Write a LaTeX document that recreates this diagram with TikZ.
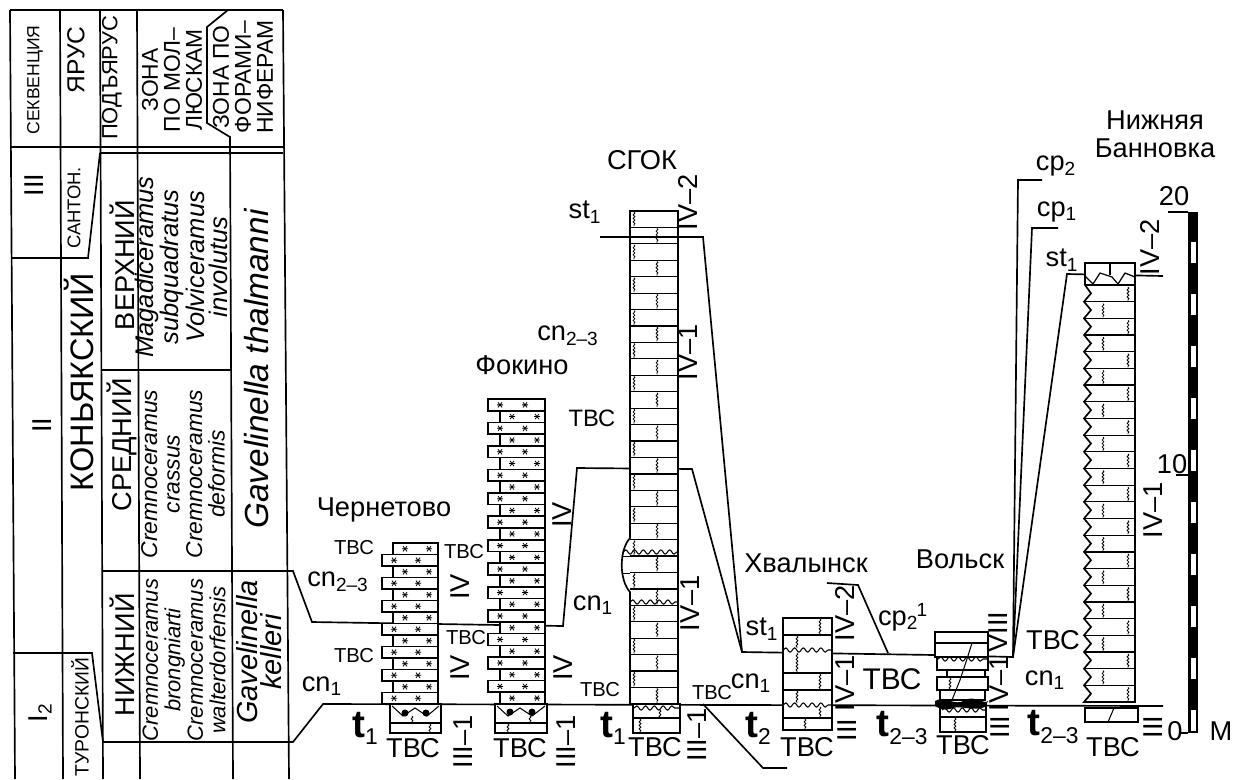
\documentclass[tikz,border=0pt]{standalone}
\usepackage{fontspec}
\setmainfont{Liberation Sans}
\usetikzlibrary{decorations.pathmorphing}
\newcommand\lbl{\fontsize{15.5}{15.5}\selectfont}
\newcommand\sml{\fontsize{11.5}{11.5}\selectfont}
\newcommand\tee{\fontsize{22}{22}\selectfont\bfseries}
\newcommand\tsub[1]{\raisebox{-4pt}{\fontsize{13}{13}\selectfont\mdseries #1}}
\def\chalkstar(#1,#2){\draw[line width=0.45pt,shift={(#1,#2)}] (-3,0) -- (3,0) (-2,-2.6) -- (2,2.6) (-2,2.6) -- (2,-2.6);}
\tikzset{
	lab/.style={font=\lbl, inner sep=0pt},
	labsm/.style={font=\sml, inner sep=0pt},
	rom/.style={font=\lbl, inner sep=0pt, rotate=90},
	tlab/.style={font=\tee, inner sep=0pt},
	hdr/.style={inner sep=0pt, rotate=90, align=center},
	wavy/.style={line width=0.45pt, decorate, decoration={snake, amplitude=0.5pt, segment length=2pt}},
	contact/.style={line width=0.6pt, decorate, decoration={snake, amplitude=1.2pt, segment length=5pt}},
}

\begin{document}
\begin{tikzpicture}[x=0.02cm, y=-0.02cm, line width=0.95pt]
				\useasboundingbox (0,0) rectangle (1234,779);
				
				\draw (10,10) -- (283,10);
				\draw (10,10) -- (15,779);
				\draw (60,10) -- (63,779);
				\draw (100,10) -- (103,779);
				\draw (137,10) -- (140,779);
				\draw (228,10) -- (207,27) -- (207,123) -- (230,137) -- (233,779);
				\draw (283,10) -- (289,779);
				\draw (10,147) -- (283,147);
				\draw (100,153) -- (283,153);
				\draw (11,258) -- (88,258) -- (100,153);
				\draw (101,370) -- (231,370);
				
				\draw (13,653) -- (92,653) -- (103,742) -- (293,742) -- (323,704) -- (1163,706);
				\draw (703,704) -- (763,768) -- (787,768);
				\draw (102,571) -- (293,571) -- (312,622) -- (563,626) -- (577,468) -- (692,469) -- (742,652) -- (935,655) -- (1013,657) -- (1018,180) -- (1042,180);
				\draw (1013,657) -- (1032,228) -- (1058,228);
				\draw (1013,657) -- (1067,274) -- (1163,276);
				\draw (600,237) -- (703,237) -- (742,652);
				\draw (827,583) -- (858,585) -- (888,653);
				
				\foreach \i in {0,...,13} {
					\pgfmathsetmacro\xl{isodd(\i) ? 382 : 393}
					\pgfmathsetmacro\yt{543+\i*11.5}
					\filldraw[fill=white] (\xl,\yt) rectangle (438,\yt+11.5);
					\chalkstar(\xl+12,\yt+5.75)
					\chalkstar(\xl+36,\yt+5.75)
				}
				\filldraw[fill=white] (390,704) rectangle (441,733);
				\draw (390,723) -- (441,723);
				\draw[line width=0.6pt] (392,706) -- (403,716) -- (415,708) -- (427,716) -- (439,706);
				\fill (405,713) circle (3.5);
				\fill (426,713) circle (3.5);
				\draw[wavy] (412,716) -- (412,723);
				\draw[wavy] (430,724) -- (430,732);
				
				\foreach \i in {0,...,25} {
					\pgfmathsetmacro\xl{isodd(\i) ? 500 : 488}
					\pgfmathsetmacro\yt{399+\i*11.73}
					\filldraw[fill=white] (\xl,\yt) rectangle (545,\yt+11.73);
					\chalkstar(\xl+12,\yt+5.86)
					\chalkstar(\xl+37,\yt+5.86)
				}
				\filldraw[fill=white] (495,704) rectangle (547,733);
				\draw (495,723) -- (547,723);
				\draw[line width=0.6pt] (497,706) -- (508,716) -- (520,708) -- (532,716) -- (545,706);
				\fill (510,712) circle (3.5);
				\fill (532,712) circle (3.5);
				\draw[wavy] (508,724) -- (508,732);
				\draw[wavy] (530,716) -- (530,723);
				
				\filldraw[fill=white] (630,211) -- (630,538) .. controls (619,550) and (619,580) .. (630,592) -- (630,704) -- (678,704) -- (678,211) -- cycle;
				\foreach \i in {1,...,29} \draw[line width=0.7pt] (630,211+\i*16.43) -- (678,211+\i*16.43);
				\draw[line width=0.7pt] (622,556.7) -- (630,556.7);
				\draw[line width=0.7pt] (622,573.2) -- (630,573.2);
				\foreach \i in {0,...,29} {
					\pgfmathsetmacro\xw{isodd(\i) ? 657 : 634}
					\draw[wavy] (\xw,212+\i*16.43) -- (\xw,210+\i*16.43+16.43);
				}
				\draw[contact] (623,552) -- (678,552);
				\draw[contact] (630,602) -- (678,602);
				\draw (630,237) -- (678,237);
				\filldraw[fill=white] (633,704) rectangle (680,733);
				\draw[contact] (634,708) -- (679,708);
				\draw (633,718) -- (680,718);
				\draw[wavy] (660,710) -- (660,718);
				\draw[wavy] (640,719) -- (640,732);
				
				\filldraw[fill=white] (783,618) rectangle (832,730);
				\foreach \y in {635,673,690,718} \draw[line width=0.7pt] (783,\y) -- (832,\y);
				\draw[contact] (783,650) -- (832,650);
				\draw[contact] (783,705) -- (832,705);
				\draw[wavy] (820,619) -- (820,634);
				\draw[wavy] (797,636) -- (797,648);
				\draw[wavy] (797,653) -- (797,672);
				\draw[wavy] (820,674) -- (820,689);
				\draw[wavy] (797,691) -- (797,703);
				\draw[wavy] (820,707) -- (820,717);
				\draw[wavy] (805,719) -- (805,729);
				
				\filldraw[fill=white] (935,632) rectangle (988,643);
				\filldraw[fill=white] (935,643) rectangle (988,657);
				\filldraw[fill=white] (937,657) rectangle (988,670);
				\filldraw[fill=white] (947,670) rectangle (985,677);
				\filldraw[fill=white] (937,677) rectangle (988,690);
				\filldraw[fill=white] (940,690) rectangle (985,700);
				\filldraw[fill=white] (940,704) rectangle (986,717);
				\filldraw[fill=white] (940,717) rectangle (986,732);
				\draw[contact] (938,659) -- (987,659);
				\draw[contact] (942,710) -- (985,710);
				\fill (935,701) .. controls (945,695) and (955,707) .. (965,700) .. controls (975,695) and (985,705) .. (988,701) -- (985,707) .. controls (970,712) and (960,704) .. (950,709) .. controls (945,711) and (938,708) .. (935,706) -- cycle;
				\draw[line width=0.6pt] (972,643) -- (966,662) -- (960,680) -- (952,700);
				\draw[wavy] (950,678) -- (950,689);
				\draw[wavy] (955,718) -- (955,731);
				
				\filldraw[fill=white] (1135,263) -- (1085,263) -- (1085,285) \foreach \i in {0,...,24} { -- (1091,285+\i*16.68+8.34) -- (1084,285+\i*16.68+16.68) } -- (1135,702) -- cycle;
				\foreach \i in {0,...,24} \draw[line width=0.7pt] (1085,285+\i*16.68) -- (1135,285+\i*16.68);
				\foreach \i in {0,...,24} {
					\pgfmathsetmacro\xw{isodd(\i) ? 1103 : 1128}
					\draw[wavy] (\xw,287+\i*16.68) -- (\xw,284+\i*16.68+16.68);
				}
				\draw[line width=0.7pt] (1110,263) -- (1110,275);
				\draw[line width=0.7pt] (1085,276) -- (1093,284) -- (1100,273) -- (1112,277) -- (1118,284) -- (1125,273) -- (1135,277);
				\filldraw[fill=white] (1085,708) rectangle (1138,722);
				\draw[line width=0.6pt] (1108,722) -- (1114,708);
				
				\fill (1188,212) rectangle (1198,733);
				\foreach \m in {0,2,...,18} \fill[white] (1191,733-\m*26-2.5) rectangle (1195.5,733-\m*26-23.5);
				\draw (1168,212) -- (1188,212);
				\draw (1176,475) -- (1188,475);
				\draw (1181,733) -- (1188,733);
				
				\node[hdr, font=\fontsize{10}{10}\selectfont] (seqh) at (35,80) {СЕКВЕНЦИЯ};
				\node[hdr, font=\fontsize{14}{14}\selectfont] (stageh) at (76,60) {ЯРУС};
				\node[hdr, font=\fontsize{12.5}{12.5}\selectfont] (substh) at (112,78) {ПОДЪЯРУС};
				\node[hdr, font=\fontsize{13}{12.5}\selectfont] (mollh) at (172,80) {ЗОНА\\ПО МОЛ–\\ЛЮСКАМ};
				\node[hdr, font=\fontsize{13}{12.5}\selectfont] (foramh) at (243,77) {ЗОНА ПО\\ФОРАМИ–\\НИФЕРАМ};
				\node[rom] (seq3) at (34,185) {III};
				\node[rom] (seq2) at (42,425) {II};
				\node[rom] (seq1) at (40,713) {I\textsubscript{2}};
				\node[hdr, font=\fontsize{10.5}{10.5}\selectfont] (sant) at (74,208) {САНТОН.};
				\node[hdr, font=\fontsize{18.5}{18.5}\selectfont] (coniac) at (79,382) {КОНЬЯКСКИЙ};
				\node[hdr, font=\fontsize{11}{11}\selectfont] (turon) at (80,717) {ТУРОНСКИЙ};
				\node[hdr, font=\lbl] (upper) at (122,265) {ВЕРХНИЙ};
				\node[hdr, font=\lbl] (middle) at (122,445) {СРЕДНИЙ};
				\node[hdr, font=\lbl] (lower) at (122,655) {НИЖНИЙ};
				\node[hdr, font=\fontsize{14.5}{13}\selectfont\itshape] (mollu) at (181,267) {Magadiceramus\\subquadratus\\Volviceramus\\involutus};
				\node[hdr, font=\fontsize{13}{12.8}\selectfont\itshape] (mollm) at (183,474) {Cremnoceramus\\crassus\\Cremnoceramus\\deformis};
				\node[hdr, font=\fontsize{12.5}{12.8}\selectfont\itshape] (molll) at (184,660) {Cremnoceramus\\brongniarti\\Cremnoceramus\\walterdorfensis};
				\node[hdr, font=\fontsize{19}{19}\selectfont\itshape] (foramu) at (257,369) {Gavelinella thalmanni};
				\node[hdr, font=\fontsize{16.5}{14}\selectfont\itshape] (foraml) at (259,652) {Gavelinella\\kelleri};
				
				\node[lab] (chname) at (384,510) {Чернетово};
				\node[labsm] (chtopl) at (354,548) {ТВС};
				\node[labsm] (chtopr) at (464,552) {ТВС};
				\node[lab] (chcn23) at (338,582) {cn\textsubscript{2–3}};
				\node[rom] (chiv2) at (460,587) {IV};
				\node[labsm] (chmidr) at (466,638) {ТВС};
				\node[labsm] (chmidl) at (354,656) {ТВС};
				\node[rom] (chiv1) at (460,668) {IV};
				\node[lab] (chcn1) at (322,686) {cn\textsubscript{1}};
				\node[tlab] (cht) at (365,728) {t\tsub{1}};
				\node[lab] (chbot) at (413,748) {ТВС};
				\node[rom] (chiii) at (463,742) {III–1};
				
				\node[lab] (fkname) at (522,365) {Фокино};
				\node[rom] (fkiv2) at (562,515) {IV};
				\node[lab] (fkcn1) at (593,605) {cn\textsubscript{1}};
				\node[rom] (fkiv1) at (563,668) {IV};
				\node[labsm] (fklow) at (600,690) {ТВС};
				\node[lab] (fkbot) at (520,748) {ТВС};
				\node[rom] (fkiii) at (566,742) {III–1};
				
				\node[lab] (sgname) at (642,160) {СГОК};
				\node[rom] (sgiv2) at (688,202) {IV–2};
				\node[lab] (sgst) at (585,212) {st\textsubscript{1}};
				\node[lab] (sgcn23) at (568,336) {cn\textsubscript{2–3}};
				\node[rom] (sgiv1) at (688,352) {IV–1};
				\node[font=\fontsize{13.5}{13.5}\selectfont, inner sep=0pt] (sgtvs) at (592,418) {ТВС};
				\node[rom] (sgiv1b) at (690,603) {IV–1};
				\node[labsm] (sglow) at (712,693) {ТВС};
				\node[tlab] (sgt) at (613,728) {t\tsub{1}};
				\node[lab] (sgbot) at (655,747) {ТВС};
				\node[rom] (sgiii) at (697,735) {III–1};
				
				\node[lab] (hvname) at (806,563) {Хвалынск};
				\node[rom] (hviv2) at (845,613) {IV–2};
				\node[lab] (hvst) at (762,629) {st\textsubscript{1}};
				\node[rom] (hviv1) at (845,683) {IV–1};
				\node[lab] (hvcn1) at (751,683) {cn\textsubscript{1}};
				\node[tlab] (hvt) at (758,728) {t\tsub{2}};
				\node[lab] (hvbot) at (807,747) {ТВС};
				\node[rom] (hviii) at (847,730) {III};
				
				\node[lab] (vlname) at (960,559) {Вольск};
				\node[lab] (vlcp) at (903,617) {cp\textsubscript{2}\kern-1pt\textsuperscript{1}};
				\node[font=\fontsize{17}{17}\selectfont, inner sep=0pt] (vltvs) at (892,679) {ТВС};
				\node[rom] (vlviii) at (998,632) {VIII};
				\node[rom] (vliv1) at (999,683) {IV–1};
				\node[tlab] (vlt) at (902,728) {t\tsub{2–3}};
				\node[lab] (vlbot) at (963,745) {ТВС};
				\node[rom] (vliii) at (1000,727) {III};
				
				\node[font=\fontsize{15.5}{16}\selectfont, inner sep=0pt, align=center] (bnname) at (1155,134) {Нижняя\\Банновка};
				\node[lab] (bncp2) at (1056,166) {cp\textsubscript{2}};
				\node[lab] (bncp1) at (1057,212) {cp\textsubscript{1}};
				\node[lab] (bnst) at (1062,260) {st\textsubscript{1}};
				\node[rom] (bniv2) at (1150,247) {IV–2};
				\node[rom] (bniv1) at (1153,510) {IV–1};
				\node[lab] (bntvs) at (1053,640) {ТВС};
				\node[lab] (bncn1) at (1045,680) {cn\textsubscript{1}};
				\node[tlab] (bnt) at (1053,727) {t\tsub{2–3}};
				\node[lab] (bnbot) at (1113,747) {ТВС};
				\node[rom] (bniii) at (1153,727) {III};
				
				\node[lab] (sc20) at (1174,196) {20};
				\node[lab] (sc10) at (1172,464) {10};
				\node[lab] (sc0) at (1175,731) {0};
				\node[lab] (scm) at (1221,731) {М};
			\end{tikzpicture}
\end{document}
